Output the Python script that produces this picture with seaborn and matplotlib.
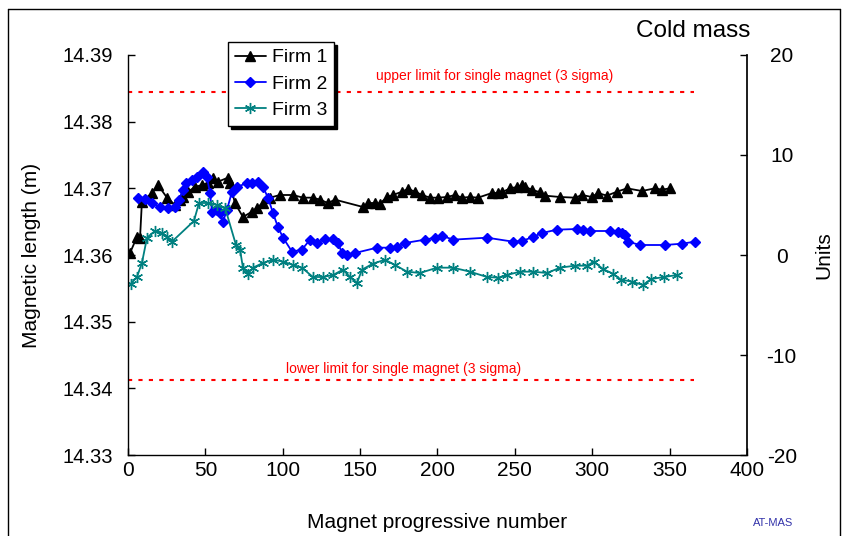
import pandas as pd
import matplotlib.pyplot as plt
import seaborn as sns
from matplotlib.lines import Line2D

# Firm 1 (black triangles)
firm1_x = [1.3, 5.8, 7.8, 9.0, 15.5, 19.4, 25.2, 30.4, 33.6, 35.5, 38.8, 43.3, 47.8, 51.7,
           54.9, 58.2, 64.6, 65.9, 69.1, 74.3, 80.1, 83.4, 87.2, 91.8, 98.2, 106.6, 113.1,
           119.5, 124.0, 129.2, 133.8, 151.9, 155.1, 159.6, 162.8, 167.4, 171.2, 177.1,
           180.9, 185.5, 190.0, 195.2, 200.3, 206.1, 211.3, 215.8, 221.0, 226.2, 235.2,
           239.1, 241.7, 246.8, 251.4, 254.6, 256.5, 261.1, 266.2, 269.5, 279.2, 288.9,
           293.4, 299.8, 303.7, 309.5, 316.0, 322.5, 332.1, 340.5, 345.1, 350.2]
firm1_y = [14.3603, 14.3627, 14.3626, 14.3680, 14.3693, 14.3705, 14.3686, 14.3675, 14.3683,
           14.3687, 14.3695, 14.3702, 14.3705, 14.3708, 14.3716, 14.3710, 14.3716, 14.3708,
           14.3678, 14.3657, 14.3665, 14.3671, 14.3678, 14.3686, 14.3690, 14.3690, 14.3686,
           14.3686, 14.3683, 14.3678, 14.3683, 14.3672, 14.3678, 14.3678, 14.3677, 14.3687,
           14.3690, 14.3695, 14.3699, 14.3695, 14.3690, 14.3686, 14.3686, 14.3687, 14.3690,
           14.3686, 14.3687, 14.3686, 14.3693, 14.3693, 14.3694, 14.3700, 14.3702, 14.3705,
           14.3702, 14.3698, 14.3694, 14.3689, 14.3687, 14.3686, 14.3690, 14.3687, 14.3693,
           14.3689, 14.3695, 14.3700, 14.3696, 14.3700, 14.3698, 14.3700]

# Firm 2 (blue diamonds)
firm2_x = [6.5, 11.0, 15.5, 20.7, 25.8, 30.4, 33.0, 35.5, 37.5, 41.4, 44.6, 48.5, 51.0, 53.0,
           54.3, 57.5, 59.5, 61.4, 64.0, 67.2, 70.4, 76.9, 80.1, 84.0, 87.2, 90.5, 93.7, 96.9,
           100.2, 106.0, 112.4, 117.6, 122.1, 127.3, 132.5, 135.7, 138.3, 141.5, 146.7, 160.9,
           169.3, 173.8, 179.0, 191.9, 198.4, 202.9, 210.0, 232.0, 248.8, 254.6, 261.7, 267.5,
           277.2, 290.1, 294.0, 298.5, 311.5, 316.6, 319.2, 321.2, 323.1, 330.9, 347.0, 358.0,
           366.4]
firm2_y = [14.3686, 14.3684, 14.3678, 14.3672, 14.3671, 14.3672, 14.3683, 14.3698, 14.3708,
           14.3713, 14.3717, 14.3725, 14.3717, 14.3693, 14.3665, 14.3668, 14.3663, 14.3650,
           14.3668, 14.3695, 14.3702, 14.3708, 14.3708, 14.3710, 14.3702, 14.3686, 14.3663,
           14.3642, 14.3626, 14.3605, 14.3608, 14.3623, 14.3618, 14.3624, 14.3624, 14.3618,
           14.3603, 14.3600, 14.3603, 14.3611, 14.3611, 14.3612, 14.3618, 14.3623, 14.3626,
           14.3629, 14.3623, 14.3626, 14.3620, 14.3621, 14.3627, 14.3633, 14.3638, 14.3639,
           14.3638, 14.3636, 14.3636, 14.3635, 14.3633, 14.3630, 14.3620, 14.3615, 14.3615,
           14.3617, 14.3620]

# Firm 3 (teal asterisks)
firm3_x = [1.9, 5.8, 9.0, 12.3, 17.4, 22.0, 25.2, 28.4, 42.6, 45.9, 51.7, 57.5, 62.7, 69.8,
           72.4, 74.3, 77.5, 80.8, 87.2, 93.7, 100.2, 106.6, 112.4, 119.5, 126.0, 132.5, 138.9,
           143.5, 148.0, 151.2, 158.3, 166.1, 172.5, 180.3, 188.7, 199.7, 210.0, 221.0, 232.0,
           239.1, 244.9, 253.3, 261.7, 270.8, 279.2, 288.9, 296.6, 301.1, 306.9, 313.4, 318.6,
           325.7, 332.8, 338.0, 346.4, 354.8]
firm3_y = [14.3557, 14.3567, 14.3588, 14.3626, 14.3636, 14.3633, 14.3627, 14.3620, 14.3651,
           14.3678, 14.3678, 14.3675, 14.3671, 14.3615, 14.3608, 14.3581, 14.3572, 14.3581,
           14.3588, 14.3593, 14.3590, 14.3585, 14.3581, 14.3567, 14.3567, 14.3570, 14.3578,
           14.3567, 14.3558, 14.3578, 14.3587, 14.3593, 14.3585, 14.3575, 14.3573, 14.3581,
           14.3581, 14.3575, 14.3567, 14.3566, 14.3570, 14.3575, 14.3575, 14.3573, 14.3581,
           14.3584, 14.3584, 14.3590, 14.3579, 14.3572, 14.3563, 14.3560, 14.3555, 14.3564,
           14.3567, 14.3570]

upper_limit = 14.3844
lower_limit = 14.3412
limit_end = 366

sns.set_theme(style="white")
plt.rcParams['font.family'] = ['Liberation Sans', 'DejaVu Sans']
plt.rcParams['axes.unicode_minus'] = False
plt.rcParams['text.color'] = 'black'
plt.rcParams['axes.labelcolor'] = 'black'
plt.rcParams['xtick.color'] = 'black'
plt.rcParams['ytick.color'] = 'black'

fig = plt.figure(figsize=(8.47, 5.36), dpi=100)
ax = fig.add_axes([0.1511, 0.1511, 0.7308, 0.7463])

series = [
    ("Firm 1", firm1_x, firm1_y, "black", "^", 7.5),
    ("Firm 2", firm2_x, firm2_y, "#0000FF", "D", 5.5),
    ("Firm 3", firm3_x, firm3_y, "#008080", (6, 2, 0), 8),
]
for name, xs, ys, col, mk, ms in series:
    df = pd.DataFrame({"x": xs, "y": ys})
    sns.lineplot(data=df, x="x", y="y", ax=ax, color=col, marker=mk, markersize=ms,
                 markeredgecolor=col, markeredgewidth=1.0, linewidth=1.3,
                 estimator=None, label=name)

ax.hlines([upper_limit, lower_limit], 0, limit_end, colors="red", linestyles=(0, (2, 3)),
          linewidth=1.5)
ax.text(237, 14.3869, "upper limit for single magnet (3 sigma)", color="red",
        fontsize=10, ha="center", va="center")
ax.text(178, 14.3429, "lower limit for single magnet (3 sigma)", color="red",
        fontsize=10, ha="center", va="center")

ax.set_xlim(0, 400)
ax.set_ylim(14.33, 14.39)
ax.set_xticks(range(0, 401, 50))
yt = [14.33, 14.34, 14.35, 14.36, 14.37, 14.38, 14.39]
ax.set_yticks(yt)
ax.set_yticklabels([f"{v:.2f}" for v in yt])
ax.set_xlabel("Magnet progressive number", fontsize=15, labelpad=24)
ax.set_ylabel("Magnetic length (m)", fontsize=15, labelpad=15)
ax.tick_params(axis="x", labelsize=15, direction="in", length=5, width=1, color="black",
               bottom=True, pad=4)
ax.tick_params(axis="y", labelsize=14.5, direction="in", length=5, width=1, color="black",
               left=True, pad=11)
for s in ["top", "right"]:
    ax.spines[s].set_visible(False)
for s in ["left", "bottom"]:
    ax.spines[s].set_color("black")
    ax.spines[s].set_linewidth(1)

ax2 = ax.twinx()
ax2.set_ylim(-20, 20)
ax2.set_yticks([-20, -10, 0, 10, 20])
ax2.set_ylabel("Units", fontsize=15, labelpad=13)
ax2.tick_params(axis="y", labelsize=15, direction="in", length=5, width=1, color="black",
                right=True, pad=25)
for lab in ax2.get_yticklabels():
    lab.set_horizontalalignment("center")
for s in ["top", "left", "bottom"]:
    ax2.spines[s].set_visible(False)
ax2.spines["right"].set_color("black")
ax2.grid(False)

leg = ax.legend(loc="upper left", bbox_to_anchor=(0.1615, 1.0325), fontsize=14, frameon=True,
                fancybox=False, shadow={"color": "black", "alpha": 1}, edgecolor="black",
                borderpad=0.35, handlelength=1.6, handletextpad=0.3, labelspacing=0.45,
                borderaxespad=0)
leg.get_frame().set_linewidth(1)

fig.text(0.886, 0.943, "Cold mass", fontsize=17.5, ha="right", va="center")
fig.text(0.913, 0.024, "AT-MAS", fontsize=8, color="#3333AA", ha="center", va="center")

# outer frame
fig.add_artist(Line2D([0.009, 0.992], [0.983, 0.983], color="black", lw=1,
                      transform=fig.transFigure))
fig.add_artist(Line2D([0.009, 0.009], [0.0, 0.983], color="black", lw=1,
                      transform=fig.transFigure))
fig.add_artist(Line2D([0.992, 0.992], [0.0, 0.983], color="black", lw=1,
                      transform=fig.transFigure))

fig.savefig("out.png", dpi=100)
plt.close(fig)
